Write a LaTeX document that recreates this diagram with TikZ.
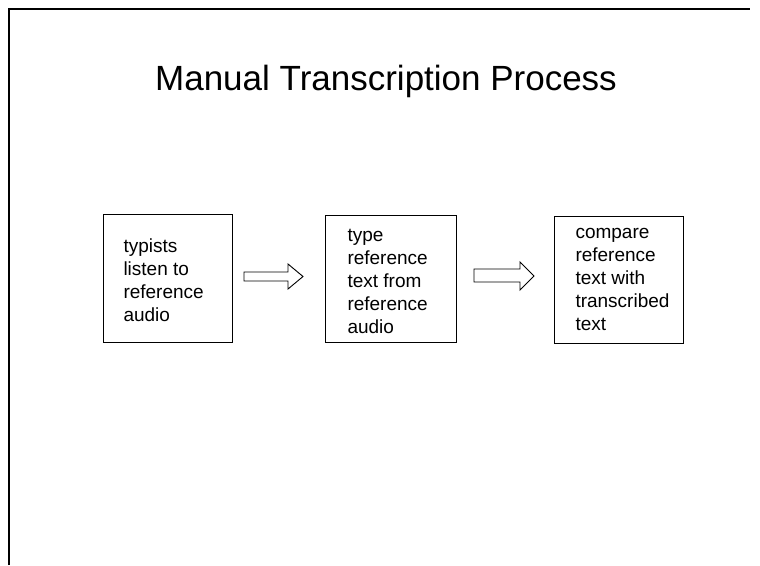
\documentclass[tikz,border=0pt]{standalone}
\usepackage{fontspec}
\setmainfont{Liberation Sans}
\begin{document}
\begin{tikzpicture}[x=1pt,y=-1pt,
  stepbox/.style={draw=black, line width=1pt, align=left, inner sep=0pt,
    font=\fontsize{19}{23}\selectfont},
  blockarrow/.style={draw=black, line width=0.9pt, fill=white, line join=miter},
  frameline/.style={draw=black, line width=1.6pt}]
\useasboundingbox (0,0) rectangle (760,565);
% frame
\draw[frameline] (9,565) -- (9,9) -- (750,9);
% title
\node[anchor=base, font=\fontsize{35}{40}\selectfont] (title) at (386,90) {Manual Transcription Process};
% boxes
\draw[line width=1pt] (103,214) rectangle (232,342);
\node[stepbox, draw=none, anchor=west] (b1) at (123,280) {typists\\listen to\\reference\\audio};
\draw[line width=1pt] (325,215) rectangle (456,342);
\node[stepbox, draw=none, anchor=west] (b2) at (347,281) {type\\reference\\text from\\reference\\audio};
\draw[line width=1pt] (554,216) rectangle (683,343);
\node[stepbox, draw=none, anchor=west] (b3) at (575,279) {compare\\reference\\text with\\transcribed\\text};
% arrows
\draw[blockarrow] (244,272) -- (288,272) -- (288,264) -- (303,276.5) -- (288,289) -- (288,281) -- (244,281) -- cycle;
\draw[blockarrow] (474,269) -- (520,269) -- (520,262) -- (534,276) -- (520,290) -- (520,282) -- (474,282) -- cycle;
\end{tikzpicture}
\end{document}
